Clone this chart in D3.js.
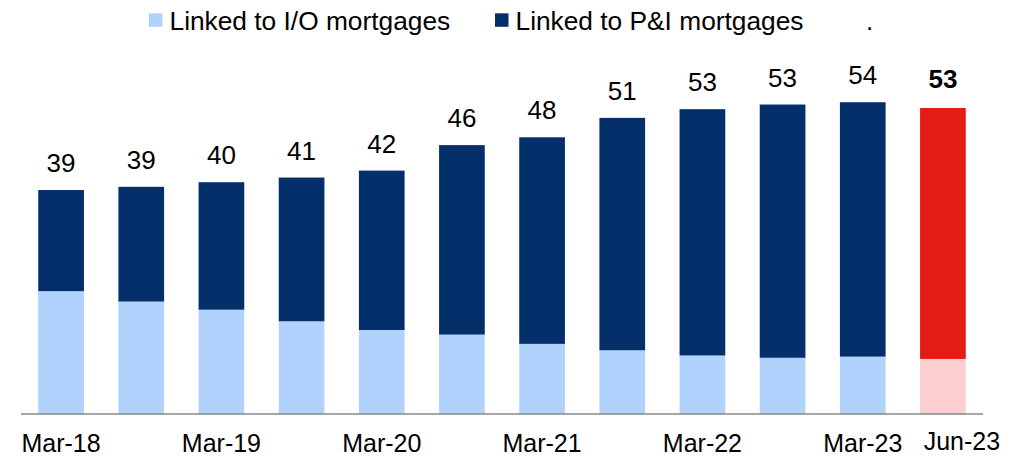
<!DOCTYPE html>
<html>
<head>
<meta charset="utf-8">
<script src="https://cdn.jsdelivr.net/npm/d3@7"></script>
<style>
  body { margin: 0; background: #fff; }
  text { font-family: "Liberation Sans", Arial, sans-serif; fill: #000; }
</style>
</head>
<body>
<svg id="chart" width="1031" height="458"></svg>
<script>
// quarters shown on the chart
var categories = ['Mar-18', 'Sep-18', 'Mar-19', 'Sep-19', 'Mar-20', 'Sep-20',
                  'Mar-21', 'Sep-21', 'Mar-22', 'Sep-22', 'Mar-23', 'Jun-23'];
// only these get a label under the axis
var tickLabels = ['Mar-18', 'Mar-19', 'Mar-20', 'Mar-21', 'Mar-22', 'Mar-23', 'Jun-23'];
var ioValues = [21.2, 19.4, 18.0, 16.0, 14.5, 13.7, 12.1, 11.0, 10.1, 9.7, 9.9, 9.5];
var piValues = [17.45, 19.8, 22.0, 24.8, 27.5, 32.7, 35.65, 40.1, 42.5, 43.7, 43.9, 43.3];
var seriesNames = ['Linked to I/O mortgages', 'Linked to P&I mortgages'];

var rows = categories.map(function(c, i) {
  return {cat: c, io: ioValues[i], pi: piValues[i]};
});
var last = categories[categories.length - 1];

var colors = {io: '#b0d2fc', pi: '#03306b'};
var lastColors = {io: '#fbcfcf', pi: '#e31c16'};

var svg = d3.select('#chart');

var x = d3.scaleBand().domain(categories).range([21, 983])
          .paddingInner(0.43).paddingOuter(0.215);
var y = d3.scaleLinear().domain([0, 60]).range([414, 414 - 60 * 5.795]);

var stacked = d3.stack().keys(['io', 'pi'])(rows);

svg.append('g').selectAll('g')
  .data(stacked)
  .enter().append('g')
  .each(function(s) {
    d3.select(this).selectAll('rect')
      .data(s)
      .enter().append('rect')
      .attr('x', function(d) { return x(d.data.cat); })
      .attr('width', x.bandwidth())
      .attr('y', function(d) { return y(d[1]); })
      .attr('height', function(d) { return y(d[0]) - y(d[1]); })
      .attr('fill', function(d) {
        return d.data.cat === last ? lastColors[s.key] : colors[s.key];
      });
  });

// totals on top
svg.append('g').selectAll('text')
  .data(rows)
  .enter().append('text')
  .attr('x', function(d) { return x(d.cat) + x.bandwidth() / 2; })
  .attr('y', function(d) { return y(d.io + d.pi) - (d.cat === last ? 20 : 18); })
  .attr('text-anchor', 'middle')
  .style('font-size', '26px')
  .style('font-weight', function(d) { return d.cat === last ? 'bold' : 'normal'; })
  .text(function(d) { return Math.round(d.io + d.pi); });

// x axis
var xAxis = svg.append('g')
  .attr('transform', 'translate(0,414)')
  .call(d3.axisBottom(x).tickValues(tickLabels).tickSize(0).tickPadding(20.25));
xAxis.select('.domain').attr('stroke', '#898989').attr('stroke-width', 1.5)
  .attr('d', 'M21,0H983');
xAxis.selectAll('text')
  .style('font-size', '25px')
  .attr('fill', '#000')
  .style('font-family', '"Liberation Sans", Arial, sans-serif')
  .each(function(d) {
    if (d === last) d3.select(this).attr('dx', 19).attr('y', 17.75);
  });

// legend
var legend = svg.append('g');
var legendX = [149, 495];
legend.selectAll('rect')
  .data(['io', 'pi'])
  .enter().append('rect')
  .attr('x', function(d, i) { return legendX[i]; })
  .attr('y', 13.3)
  .attr('width', 13.5)
  .attr('height', 13.5)
  .attr('fill', function(d) { return colors[d]; });
legend.selectAll('text')
  .data(seriesNames)
  .enter().append('text')
  .attr('x', function(d, i) { return legendX[i] + 20.5; })
  .attr('y', 29.5)
  .style('font-size', '26.3px')
  .text(function(d) { return d; });
legend.append('text')
  .attr('x', 866).attr('y', 29.5)
  .style('font-size', '26px')
  .text('.');
</script>
</body>
</html>
